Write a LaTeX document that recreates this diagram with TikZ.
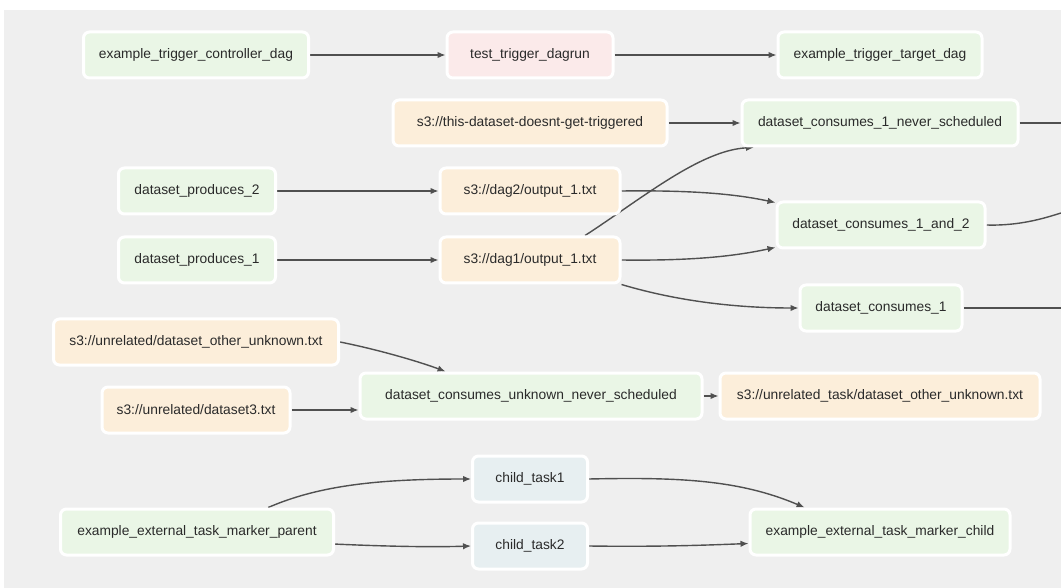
\documentclass[tikz,border=0pt]{standalone}
\usepackage{fontspec}
\setmainfont{Liberation Sans}
\usetikzlibrary{arrows.meta,calc}
\definecolor{bggray}{HTML}{EFEFEF}
\definecolor{dagfill}{HTML}{EAF6E6}
\definecolor{dsfill}{HTML}{FCEEDA}
\definecolor{trigfill}{HTML}{FBEAEA}
\definecolor{taskfill}{HTML}{E7EFF1}
\definecolor{txtcol}{HTML}{2A2A2A}
\definecolor{edgecol}{HTML}{505050}
\pgfdeclarelayer{bg}
\pgfdeclarelayer{edges}
\pgfsetlayers{bg,edges,main}
\tikzset{
  box/.style={draw=white, line width=3pt, rounded corners=6pt, minimum height=46pt,
    inner xsep=4pt, text=txtcol, font=\fontsize{13.8}{16}\selectfont},
  dagbox/.style={box, fill=dagfill},
  dsbox/.style={box, fill=dsfill},
  trigbox/.style={box, fill=trigfill},
  taskbox/.style={box, fill=taskfill},
  conn/.style={draw=edgecol, line width=1.4pt, -{Latex[length=8pt,width=6.5pt]}},
  plainconn/.style={draw=edgecol, line width=1.4pt}
}
\begin{document}
\begin{tikzpicture}[x=1pt,y=-1pt]
\useasboundingbox (0,0) rectangle (1061,588);
\begin{pgfonlayer}{bg}
\fill[white] (0,0) rectangle (1061,588);
\fill[bggray] (4,10) rectangle (1061,588);
\end{pgfonlayer}

% nodes
\node[dagbox, minimum width=225pt] (ctrl) at (196,55) {example\_trigger\_controller\_dag};
\node[trigbox, minimum width=166pt] (tdr) at (530,55) {test\_trigger\_dagrun};
\node[dagbox, minimum width=204pt] (target) at (880,55) {example\_trigger\_target\_dag};

\node[dsbox, minimum width=274pt] (this) at (530,123) {s3://this-dataset-doesnt-get-triggered};
\node[dagbox, minimum width=276pt] (c1ns) at (880,123) {dataset\_consumes\_1\_never\_scheduled};

\node[dagbox, minimum width=157pt] (p2) at (197,191) {dataset\_produces\_2};
\node[dagbox, minimum width=157pt] (p1) at (197,260) {dataset\_produces\_1};
\node[dsbox, minimum width=180pt] (dag2) at (530,191) {s3://dag2/output\_1.txt};
\node[dsbox, minimum width=180pt] (dag1) at (530,260) {s3://dag1/output\_1.txt};
\node[dagbox, minimum width=208pt] (c12) at (881,225) {dataset\_consumes\_1\_and\_2};
\node[dagbox, minimum width=162pt] (c1) at (881,308) {dataset\_consumes\_1};

\node[dsbox, minimum width=285pt] (other) at (196,342) {s3://unrelated/dataset\_other\_unknown.txt};
\node[dsbox, minimum width=188pt] (d3) at (196,410) {s3://unrelated/dataset3.txt};
\node[dagbox, minimum width=342pt] (cun) at (531,396) {dataset\_consumes\_unknown\_never\_scheduled};
\node[dsbox, minimum width=320pt] (ut) at (880,396) {s3://unrelated\_task/dataset\_other\_unknown.txt};

\node[taskbox, minimum width=115pt] (ct1) at (530,479) {child\_task1};
\node[taskbox, minimum width=115pt] (ct2) at (530,546) {child\_task2};
\node[dagbox, minimum width=273pt] (parent) at (197,532) {example\_external\_task\_marker\_parent};
\node[dagbox, minimum width=260pt] (mchild) at (880,532) {example\_external\_task\_marker\_child};

\coordinate (r1) at (1061,123);
\coordinate (r2) at (1061,213);
\coordinate (r3) at (1061,308);

% edges
\begin{pgfonlayer}{edges}
\draw[conn] (ctrl.east) -- (tdr.west);
\draw[conn] (tdr.east) -- (target.west);
\draw[conn] (this.east) -- (c1ns.west);
\draw[plainconn] (c1ns.east) -- (r1);
\draw[conn] (p2.east) -- (dag2.west);
\draw[conn] (p1.east) -- (dag1.west);
\draw[conn] (dag2.east) .. controls (700,190) and (740,195) .. (c12.168);
\draw[conn] (dag1.east) .. controls (700,261) and (740,255) .. (c12.192);
\draw[conn] (dag1.24) .. controls (640,200) and (700,150) .. (c1ns.191);
\draw[conn] (dag1.south east) .. controls (680,302) and (740,308) .. (c1.west);
\draw[plainconn] (c12.east) .. controls (1020,226) and (1045,218) .. (r2);
\draw[plainconn] (c1.east) -- (r3);
\draw[conn] (other.east) .. controls (380,350) and (420,362) .. (cun.164);
\draw[conn] (d3.east) -- (d3.east -| cun.west);
\draw[conn] (cun.east) -- (ut.west);
\draw[conn] (parent.19) .. controls (320,485) and (380,479) .. (ct1.west);
\draw[conn] (parent.-5) .. controls (400,547) and (440,547) .. (ct2.west);
\draw[conn] (ct1.east) .. controls (680,477) and (740,480) .. (mchild.162);
\draw[conn] (ct2.east) .. controls (660,547) and (710,545) .. (mchild.185);
\end{pgfonlayer}
\end{tikzpicture}
\end{document}
